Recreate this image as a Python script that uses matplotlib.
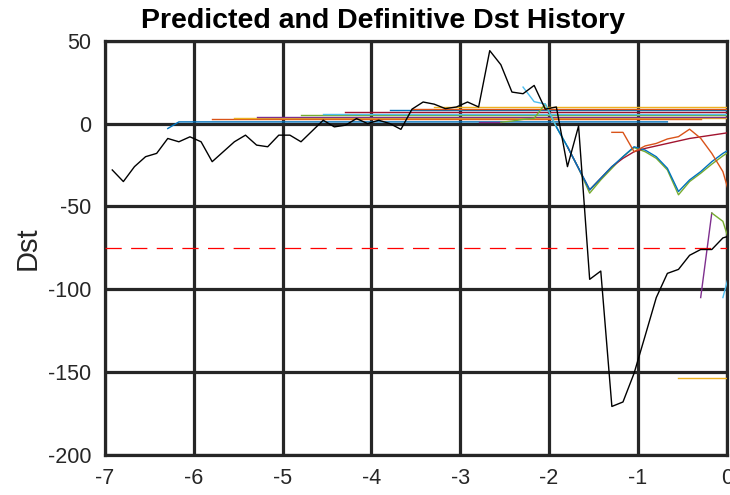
import matplotlib
matplotlib.use("Agg")
import matplotlib.pyplot as plt

plt.rcParams['font.family'] = ['Liberation Sans', 'DejaVu Sans']
plt.rcParams['axes.unicode_minus'] = False

# Definitive Dst (3-hourly), time in days
def_time = [-6.918 + 0.125 * k for k in range(57)]
def_dst = [-28, -35, -26, -20, -18, -9, -11, -8, -11, -23,
           -17, -11, -7, -13, -14, -7, -7, -11, -4.5, 2,
           -2, -1, 3, 0, 2, 0, -3.5, 8.7, 13, 11.7,
           9, 10, 13, 10, 44, 35.5, 19, 18, 23, 8.7,
           10, -26, -1.5, -94, -89, -170.7, -168, -150.7, -128, -105,
           -90.4, -88, -79.5, -76, -76, -69, -67]

# Predicted Dst histories (one list of times and values per forecast)
pred_t = [
    [-6.293, -6.168, -0.668],
    [-5.793, -0.293],
    [-5.543, 0.2],
    [-5.293, 0.2],
    [-4.793, 0.2],
    [-4.543, 0.2],
    [-4.293, 0.2],
    [-3.793, 0.2],
    [-3.543, 0.2],
    [-3.293, 0.2],
    [-2.793, -2.543],
    [-2.543, -2.418, -2.293, -2.168, -2.043, -1.918, -1.793, -1.668, -1.543, -1.418, -1.293, -1.168,
     -1.043, -0.918, -0.793, -0.668, -0.543, -0.418, -0.293, -0.168, -0.043, 0.082],
    [-2.293, -2.168, -2.043, -1.918, -1.793, -1.668, -1.543],
    [-1.793, -1.668, -1.543, -1.418, -1.293, -1.168, -1.043, -0.918, -0.793, -0.668, -0.543, -0.418,
     -0.293, -0.168, -0.043, 0.082],
    [-1.918, -1.793, -1.668, -1.543, -1.418, -1.293, -1.168, -1.043, -0.918, -0.793, -0.668, -0.543,
     -0.418, -0.293, -0.168, -0.043, 0.082],
    [-1.293, -1.168, -1.043, -0.918, -0.793, -0.668, -0.543, -0.418, -0.293, -0.168, -0.043, 0.082],
    [-0.543, 0.2],
    [-0.293, -0.168],
    [-0.168, -0.043, 0.082],
    [-0.043, 0.082],
]
pred_v = [
    [-3, 1.0, 1.0],
    [2.6, 2.6],
    [3.4, 3.4],
    [4.2, 4.2],
    [5.0, 5.0],
    [6.0, 6.0],
    [7.2, 7.2],
    [8.1, 8.1],
    [8.9, 8.9],
    [9.7, 9.7],
    [0.8, 0.8],
    [0.8, 1.5, 2.5, 3.2, 11.8, -2, -14, -27, -42, -34, -27, -20, -14.5, -17, -21, -28, -43, -35, -30, -24.5, -19.5, -15],
    [22, 13.2, 11.8, -2, -14, -27, -40],
    [-14, -27, -40, -33, -26, -21, -17, -15, -13.5, -12, -10.5, -9, -8, -7, -6, -5],
    [-2, -14, -27, -40, -33, -26, -20, -14, -16, -20, -27, -41, -34, -29, -23, -18, -14],
    [-5.3, -5.3, -17, -13.5, -12, -9.3, -7.9, -3.4, -8.9, -18, -29, -52],
    [-153.7, -153.7],
    [-105, -54],
    [-54, -59, -80],
    [-105, -80],
]
colors = ['#0072BD', '#D95319', '#EDB120', '#7E2F8E', '#77AC30', '#4DBEEE', '#A2142F']

threshold = -75
xticks = [-7, -6, -5, -4, -3, -2, -1, 0]
yticks = [-200, -150, -100, -50, 0, 50]

fig = plt.figure(figsize=(7.3, 4.95), dpi=100)
ax = fig.add_axes([0.1438, 0.0808, 0.8517, 0.837])

for i, (t, v) in enumerate(zip(pred_t, pred_v)):
    ax.plot(t, v, color=colors[i % 7], lw=1.0, zorder=3)

ax.plot(def_time, def_dst, color='black', lw=1.0, zorder=4)
ax.plot([-7, 0], [threshold, threshold], color='#FF0000', lw=0.9,
        dashes=(13, 7.5), zorder=3)

ax.set_xlim(-7, 0)
ax.set_ylim(-200, 50)
ax.set_xticks(xticks)
ax.set_yticks(yticks)
ax.grid(True, color='#262626', lw=2.3, alpha=1)
ax.set_axisbelow(True)
for s in ax.spines.values():
    s.set_color('#262626')
    s.set_linewidth(2.3)
ax.tick_params(axis='x', length=0, labelsize=15.5, colors='#262626', pad=9)
ax.tick_params(axis='y', length=0, labelsize=15.5, colors='#262626', pad=10)
ax.set_ylabel('Dst', fontsize=21, color='#262626', labelpad=4)
ax.set_title('Predicted and Definitive Dst History', fontsize=20.5, fontweight='bold',
             color='black', pad=9, x=0.447)

fig.savefig('out.png', dpi=100)
